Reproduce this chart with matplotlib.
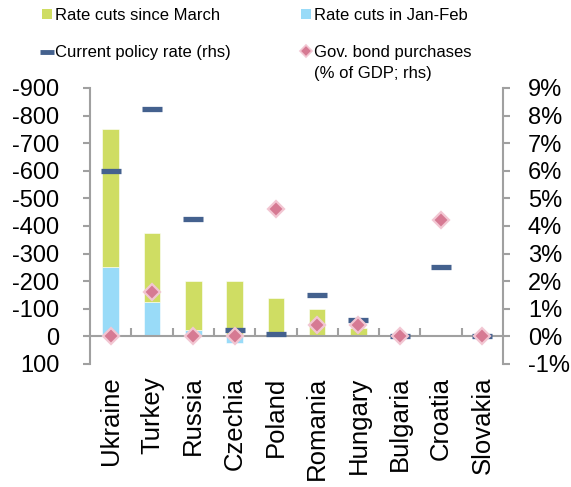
import numpy as np
import matplotlib
matplotlib.use("Agg")
import matplotlib.pyplot as plt
from matplotlib.patches import Patch
from matplotlib.lines import Line2D
from matplotlib.legend_handler import HandlerLine2D
from matplotlib.ticker import FuncFormatter, FixedLocator

plt.rcParams['font.family'] = ['Liberation Sans', 'DejaVu Sans']

countries = ["Ukraine", "Turkey", "Russia", "Czechia", "Poland",
             "Romania", "Hungary", "Bulgaria", "Croatia", "Slovakia"]
cuts_since_march = [500, 250, 175, 200, 140, 100, 30, 0, 0, 0]      # bps
cuts_jan_feb = [250, 125, 25, -25, 0, 0, 0, 0, 0, 0]                 # bps (negative = hike)
policy_rate = [6.0, 8.25, 4.25, 0.25, 0.1, 1.5, 0.6, 0.0, 2.5, 0.0]  # %
bond_purchases = [0.0, 1.6, 0.0, 0.0, 4.6, 0.4, 0.4, 0.0, 4.2, 0.0]  # % of GDP

left_ticks = [-900, -800, -700, -600, -500, -400, -300, -200, -100, 0, 100]
right_ticks = [-1, 0, 1, 2, 3, 4, 5, 6, 7, 8, 9]

GREEN = "#CFDD63"
BLUE = "#99DBF8"
NAVY = "#44618E"
PINK = "#D67A93"
PINK_EDGE = "#F2C6D2"
GREY = "#A0A0A0"


class ShiftedHandler(HandlerLine2D):
    def __init__(self, shift=0.0, **kw):
        super().__init__(**kw)
        self.shift = shift

    def create_artists(self, legend, orig_handle, xdescent, ydescent, width,
                       height, fontsize, trans):
        artists = super().create_artists(legend, orig_handle, xdescent, ydescent,
                                         width, height, fontsize, trans)
        for a in artists:
            a.set_ydata([y + self.shift for y in a.get_ydata()])
        return artists


fig = plt.figure(figsize=(5.71, 4.87), dpi=100)
ax = fig.add_axes([90/571, 1-364/487, (503-90)/571, (364-88)/487])
ax2 = ax.twinx()

x = np.arange(len(countries))
jf = -np.array(cuts_jan_feb, dtype=float)
sm = -np.array(cuts_since_march, dtype=float)
green_bottom = np.minimum(jf, 0)

ax.bar(x, jf, width=0.4, color=BLUE, edgecolor="white", linewidth=0.4, zorder=2)
ax.bar(x, sm, width=0.4, bottom=green_bottom, color=GREEN, edgecolor="white", linewidth=0.4, zorder=2)

ax.set_xlim(-0.5, len(countries) - 0.5)
ax.set_ylim(100, -900)
ax.yaxis.set_major_locator(FixedLocator(left_ticks))
ax.set_yticklabels([str(v) for v in left_ticks])

ax2.set_ylim(-1, 9)
ax2.yaxis.set_major_locator(FixedLocator(right_ticks))
ax2.yaxis.set_major_formatter(FuncFormatter(lambda v, p: f"{v:.0f}%"))

ax2.plot(x, policy_rate, linestyle="none", marker="_", markersize=14.5,
         markeredgewidth=3.8, color=NAVY, zorder=3)
ax2.plot(x, bond_purchases, linestyle="none", marker="D", markersize=8,
         markerfacecolor=PINK, markeredgecolor=PINK_EDGE, markeredgewidth=1.6, zorder=4)

# spines
for a in (ax, ax2):
    a.spines['top'].set_visible(False)
ax.spines['right'].set_visible(False)
ax2.spines['left'].set_visible(False)
ax2.spines['bottom'].set_visible(False)
ax.spines['left'].set_color(GREY)
ax.spines['left'].set_linewidth(1.5)
ax2.spines['right'].set_color(GREY)
ax2.spines['right'].set_linewidth(1.5)
ax.spines['bottom'].set_position(('data', 0))
ax.spines['bottom'].set_color(GREY)
ax.spines['bottom'].set_linewidth(1.5)

ax.tick_params(axis='y', direction='out', length=5, width=1.5, color=GREY,
               labelsize=17, pad=17)
ax2.tick_params(axis='y', direction='out', length=5, width=1.5, color=GREY,
                labelsize=17, pad=13)

# category boundaries as major ticks, country names as minor tick labels
ax.set_xticks(np.arange(0.5, len(countries) - 1, 1.0))
ax.set_xticklabels([])
ax.set_xticks(x, minor=True)
ax.set_xticklabels(countries, minor=True, rotation=90)
ax.tick_params(axis='x', which='major', direction='in', length=6, width=1.5,
               color=GREY, bottom=True)
ax.tick_params(axis='x', which='minor', length=0, labelsize=18.5, pad=29)
ax2.tick_params(axis='x', which='both', bottom=False, labelbottom=False)

handles = [
    Patch(facecolor=GREEN, edgecolor="none"),
    Line2D([], [], linestyle="none", marker="_", markersize=10, markeredgewidth=3.5, color=NAVY),
    Patch(facecolor=BLUE, edgecolor="none"),
    Line2D([], [], linestyle="none", marker="D", markersize=6, markerfacecolor=PINK,
           markeredgecolor=PINK_EDGE, markeredgewidth=1.2),
]
labels = ["Rate cuts since March", "Current policy rate (rhs)",
          "Rate cuts in Jan-Feb", "Gov. bond purchases\n(% of GDP; rhs)"]
leg = fig.legend(handles, labels, loc="upper left", bbox_to_anchor=(42/571, 1 - 8/487),
                 ncol=2, frameon=False, fontsize=12, handlelength=0.6, handleheight=0.6,
                 handletextpad=0.2, columnspacing=4.2, labelspacing=1.35, borderpad=0,
                 borderaxespad=0,
                 handler_map={handles[3]: ShiftedHandler(shift=9)})
for t in leg.get_texts():
    t.set_linespacing(1.45)

fig.savefig("out.png", dpi=100)
